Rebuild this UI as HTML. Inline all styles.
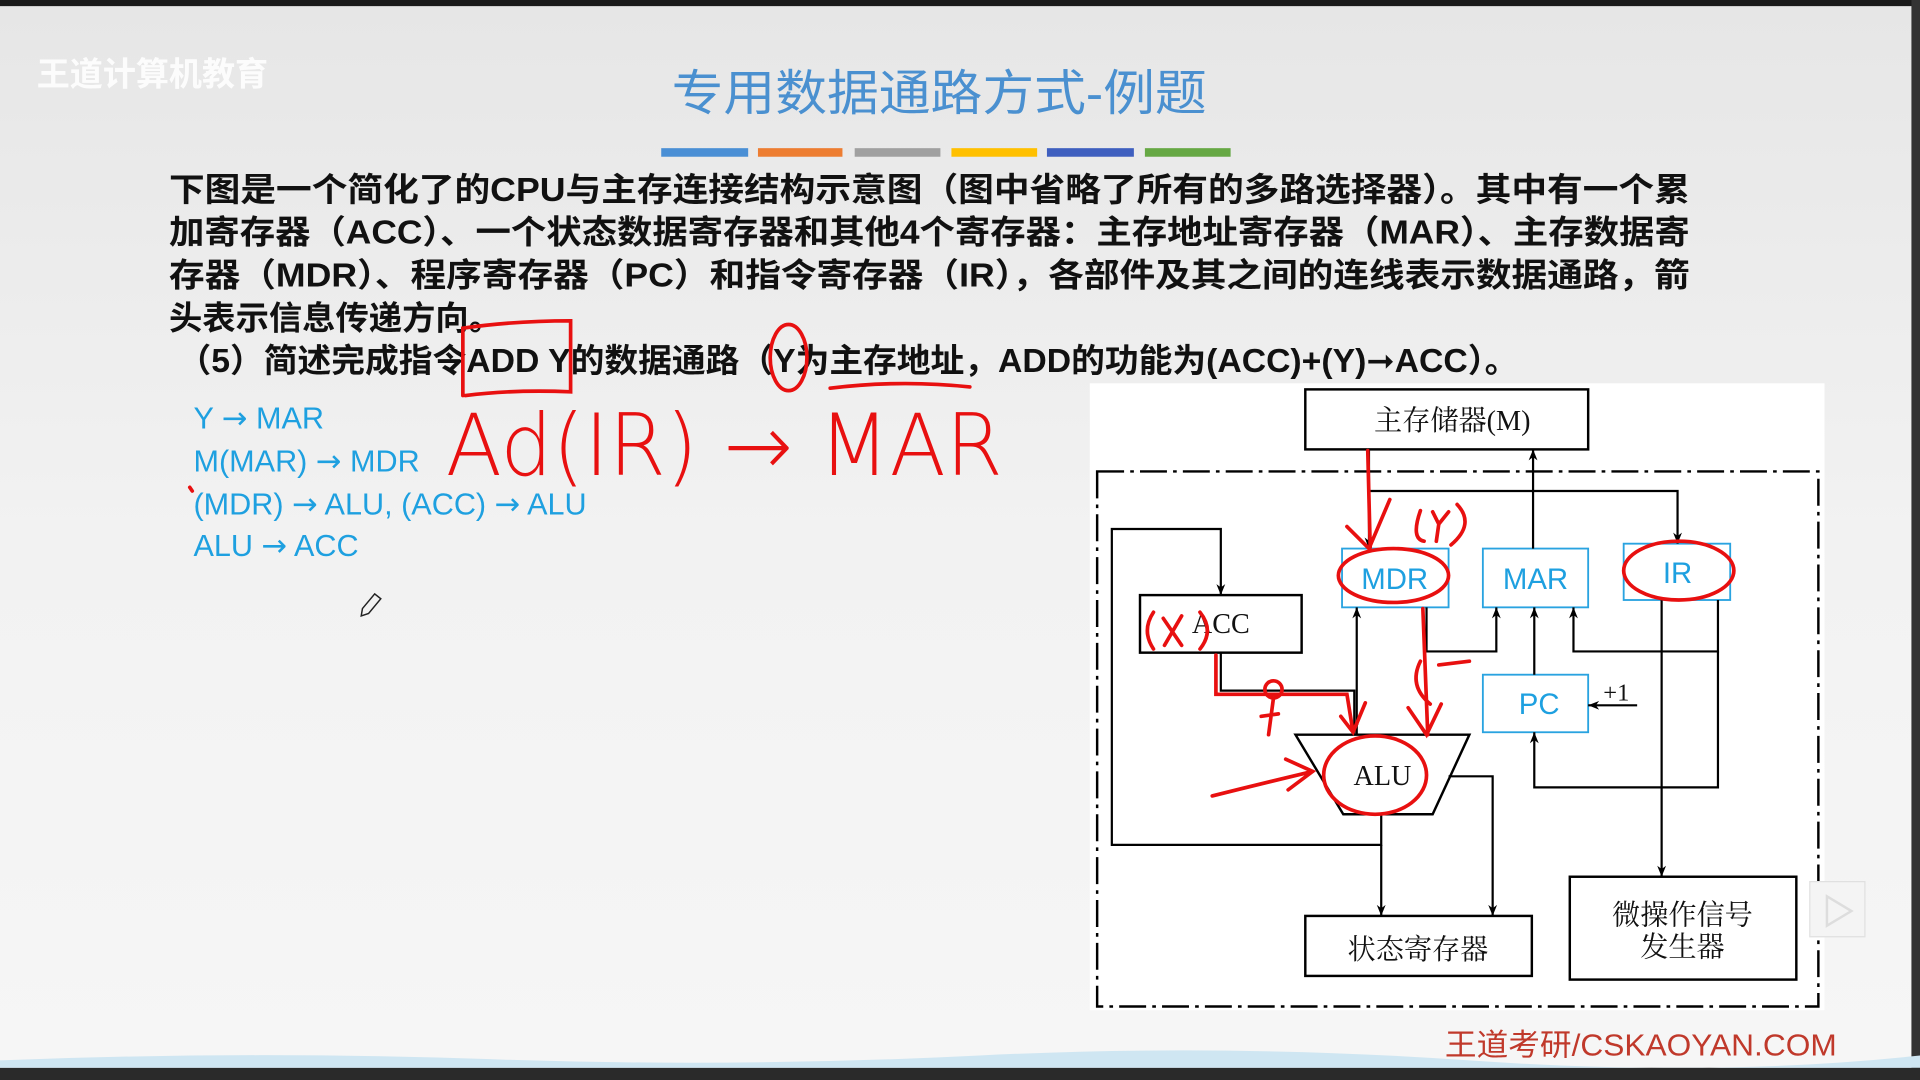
<!DOCTYPE html>
<html><head><meta charset="utf-8"><style>
html,body{margin:0;padding:0;width:1920px;height:1080px;overflow:hidden;background:#ececec}
svg{display:block}
</style></head><body>
<svg width="1920" height="1080" viewBox="0 0 1568 882" xmlns="http://www.w3.org/2000/svg" font-family="Liberation Sans, Noto Sans CJK SC, sans-serif">
<defs>
<linearGradient id="bg" x1="0" y1="0" x2="0" y2="1"><stop offset="0" stop-color="#e6e6e6"/><stop offset="0.5" stop-color="#f2f2f2"/><stop offset="1" stop-color="#f6f6f6"/></linearGradient>
<marker id="ar" viewBox="0 0 10 10" refX="10" refY="5" markerWidth="9" markerHeight="9" markerUnits="userSpaceOnUse" orient="auto"><path d="M0,1 L10,5 L0,9 L3,5 z" fill="#000"/></marker>
</defs>
<rect width="1568" height="882" fill="url(#bg)"/>
<rect width="1568" height="5" fill="#1a1a1a"/>
<rect x="1561" width="7" height="882" fill="#333"/>
<rect x="0" y="872" width="1568" height="10" fill="#2a2a2a"/>
<path d="M0,866 Q200,858 400,865 T800,862 T1200,866 T1568,862 L1568,872 L0,872z" fill="#cfe6f2"/>
<text x="30" y="70" font-size="27" font-weight="bold" fill="#fff" opacity="0.9">王道计算机教育</text>
<text x="767" y="90" font-size="40" fill="#4a90d0" text-anchor="middle" textLength="437" lengthAdjust="spacingAndGlyphs">专用数据通路方式-例题</text>
<rect x="540" y="121" width="71" height="7" fill="#4a8fd5"/>
<rect x="619" y="121" width="69" height="7" fill="#ed7d31"/>
<rect x="698" y="121" width="70" height="7" fill="#a0a0a0"/>
<rect x="777" y="121" width="70" height="7" fill="#ffc000"/>
<rect x="855" y="121" width="71" height="7" fill="#3f5fbf"/>
<rect x="935" y="121" width="70" height="7" fill="#66a844"/>
<g font-size="27" font-weight="bold" fill="#111">
<text x="138" y="164" textLength="1242" lengthAdjust="spacingAndGlyphs">下图是一个简化了的CPU与主存连接结构示意图（图中省略了所有的多路选择器）。其中有一个累</text>
<text x="138" y="199" textLength="1242" lengthAdjust="spacingAndGlyphs">加寄存器（ACC）、一个状态数据寄存器和其他4个寄存器：主存地址寄存器（MAR）、主存数据寄</text>
<text x="138" y="234" textLength="1242" lengthAdjust="spacingAndGlyphs">存器（MDR）、程序寄存器（PC）和指令寄存器（IR），各部件及其之间的连线表示数据通路，箭</text>
<text x="138" y="269" textLength="272" lengthAdjust="spacingAndGlyphs">头表示信息传递方向。</text>
<text x="145" y="304" textLength="1095" lengthAdjust="spacingAndGlyphs">（5）简述完成指令ADD Y的数据通路（Y为主存地址，ADD的功能为(ACC)+(Y)<tspan font-family="DejaVu Sans, sans-serif">➞</tspan>ACC）。</text>
</g>
<g font-size="25" fill="#1ea0e0">
<text x="158" y="350">Y <tspan font-family="DejaVu Sans, sans-serif">→</tspan> MAR</text>
<text x="158" y="385">M(MAR) <tspan font-family="DejaVu Sans, sans-serif">→</tspan> MDR</text>
<text x="158" y="420">(MDR) <tspan font-family="DejaVu Sans, sans-serif">→</tspan> ALU, (ACC) <tspan font-family="DejaVu Sans, sans-serif">→</tspan> ALU</text>
<text x="158" y="454">ALU <tspan font-family="DejaVu Sans, sans-serif">→</tspan> ACC</text>
</g>
<path d="M296,497 l10,-12 l5,4 l-10,12 l-6,2z" fill="none" stroke="#222" stroke-width="1.2"/>
<g fill="none" stroke="#e81010" stroke-width="3" stroke-linecap="round">
<path d="M378,323 L378,268 Q420,262 466,262 L466,320 Q420,318 380,323"/>
<ellipse cx="644" cy="292" rx="15" ry="27"/>
<path d="M678,317 Q735,310 792,316"/>
<path d="M155,398 l2,3"/>
</g>
<text x="364" y="388" font-size="70" fill="#e81010" font-family="DejaVu Sans, sans-serif" textLength="455" lengthAdjust="spacingAndGlyphs" style="font-weight:200">Ad(IR) → MAR</text>
<!-- diagram -->
<rect x="890" y="313" width="600" height="512" fill="#fff"/>
<rect x="896" y="385" width="589" height="437" fill="none" stroke="#000" stroke-width="2" stroke-dasharray="22,5,3,5"/>
<g fill="none" stroke="#000" stroke-width="2">
<rect x="1066" y="318" width="231" height="49"/>
<rect x="931" y="486" width="132" height="47"/>
<rect x="1066" y="748" width="185" height="49"/>
<rect x="1282" y="716" width="185" height="84"/>
<path d="M1058,600 L1200,600 L1170,665 L1097,665 Z"/>
</g>
<g fill="none" stroke="#29a3e0" stroke-width="1.5">
<rect x="1096" y="448" width="87" height="48"/>
<rect x="1211" y="448" width="86" height="48"/>
<rect x="1326" y="444" width="87" height="46"/>
<rect x="1211" y="551" width="86" height="47"/>
</g>
<g font-family="Liberation Serif, Noto Serif CJK SC, serif" font-size="23" fill="#111" text-anchor="middle">
<text x="1186" y="351">主存储器(M)</text>
<text x="997" y="517">ACC</text>
<text x="1129" y="641">ALU</text>
<text x="1158" y="783">状态寄存器</text>
<text x="1374" y="755">微操作信号</text>
<text x="1374" y="781">发生器</text>
<text x="1320" y="572" font-size="20">+1</text>
</g>
<g font-size="24" fill="#1ea0e0" text-anchor="middle">
<text x="1139" y="481">MDR</text>
<text x="1254" y="481">MAR</text>
<text x="1370" y="476">IR</text>
<text x="1257" y="583">PC</text>
</g>
<g fill="none" stroke="#000" stroke-width="1.8" marker-end="url(#ar)">
<path d="M1118,367 L1118,448"/>
<path d="M1252,448 L1252,367"/>
<path d="M1118,401 L1370,401 L1370,444"/>
<path d="M1128,666 L1128,690 L908,690 L908,432 L997,432 L997,486"/>
<path d="M1128,690 L1128,748"/>
<path d="M1183,634 L1219,634 L1219,748"/>
<path d="M997,533 L997,564 L1106,564 L1106,600"/>
<path d="M1108,600 L1108,496"/>
<path d="M1165,496 L1165,532 L1222,532 L1222,496"/>
<path d="M1253,551 L1253,496"/>
<path d="M1403,490 L1403,532 L1285,532 L1285,496"/>
<path d="M1403,532 L1403,643 L1253,643 L1253,598"/>
<path d="M1357,490 L1357,716"/>
<path d="M1337,576 L1297,576"/>
</g>
<g fill="none" stroke="#e81010" stroke-width="3" stroke-linecap="round">
<path d="M1117,368 L1119,447 M1100,430 L1118,448 L1135,408"/>
<path d="M1160,417 Q1152,440 1163,442 M1170,418 l5,10 l8,-10 M1175,428 l-2,14 M1190,412 Q1205,428 1185,445"/>
<ellipse cx="1138" cy="470" rx="45" ry="22"/>
<ellipse cx="1371" cy="466" rx="45" ry="24"/>
<ellipse cx="1123" cy="633" rx="42" ry="32"/>
<path d="M942,500 Q932,515 942,530 M950,505 l15,22 M965,503 l-14,24 M980,500 Q992,515 980,530"/>
<path d="M993,535 L993,567 L1100,567 L1105,598 M1095,585 l10,13 l10,-24"/>
<circle cx="1040" cy="563" r="7"/>
<path d="M1040,570 L1036,600 M1030,585 l14,-2"/>
<path d="M1162,497 L1166,600 M1150,578 l15,22 l12,-25"/>
<path d="M1160,540 Q1150,560 1168,575 M1175,543 L1200,540"/>
<path d="M990,650 Q1030,640 1072,630 M1050,620 l22,10 l-20,15"/>
</g>
<path d="M1478,720 h45 v45 h-45z" fill="#f4f4f4" stroke="#e0e0e0"/>
<path d="M1492,732 L1512,744 L1492,756z" fill="none" stroke="#ddd" stroke-width="2"/>
<text x="1180" y="862" font-size="25" fill="#c0392b" textLength="320" lengthAdjust="spacingAndGlyphs">王道考研/CSKAOYAN.COM</text>
</svg>
</body></html>
